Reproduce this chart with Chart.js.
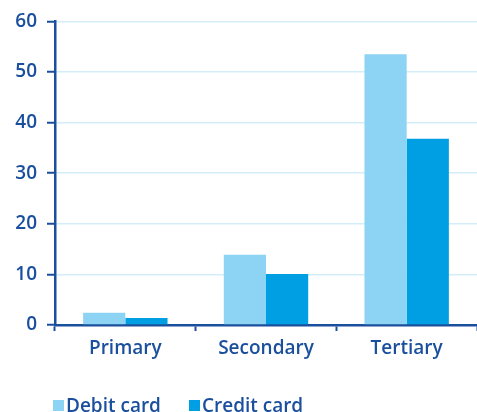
<!DOCTYPE html>
<html>
<head>
<meta charset="utf-8">
<script src="https://cdn.jsdelivr.net/npm/chart.js@4"></script>
<style>
  html, body { margin: 0; padding: 0; background: #fff; }
  #wrap { position: relative; width: 477px; height: 412px; }
  #legend {
    position: absolute; left: 53px; top: 392px;
    display: flex; gap: 28px;
    font: 600 19px 'Open Sans', sans-serif; color: #1a4f9e;
  }
  #legend span { display: flex; align-items: center; }
  #legend i { display: inline-block; width: 11px; height: 11px; margin-right: 2px; }
</style>
</head>
<body>
<div id="wrap">
  <canvas id="chart"></canvas>
  <div id="legend"></div>
</div>
<script>
// Card usage by education level
const categories = ['Primary', 'Secondary', 'Tertiary'];
const debitCard = [2.4, 13.9, 53.5];
const creditCard = [1.4, 10.1, 36.8];
const yTicks = [0, 10, 20, 30, 40, 50, 60];

const navy = '#1a4f9e';
const gridBlue = '#d3edf9';
const labelFont = { family: 'Open Sans', size: 19, weight: '600' };

const chartData = {
    labels: categories,
    datasets: [{
        label: 'Debit card',
        data: debitCard,
        backgroundColor: '#8dd3f3',
        borderWidth: 0,
        categoryPercentage: 0.6,
        barPercentage: 1.0
    }, {
        label: 'Credit card',
        data: creditCard,
        backgroundColor: '#009fe3',
        borderWidth: 0,
        categoryPercentage: 0.6,
        barPercentage: 1.0
    }]
};

const chart = new Chart(document.getElementById('chart'), {
    type: 'bar',
    data: chartData,
    options: {
        responsive: true,
        maintainAspectRatio: false,
        animation: false,
        layout: {
            padding: { top: 20, right: -5, left: 0, bottom: 0 }
        },
        scales: {
            y: {
                min: 0,
                max: 60,
                afterBuildTicks: (axis) => {
                    axis.ticks = yTicks.map(v => ({ value: v }));
                },
                afterFit: (axis) => { axis.width = 55; },
                border: { color: navy, width: 2.5 },
                grid: {
                    color: gridBlue,
                    lineWidth: 1.5,
                    tickColor: navy,
                    tickLength: 8,
                    tickWidth: 2
                },
                ticks: {
                    color: navy,
                    padding: 10,
                    font: labelFont
                }
            },
            x: {
                afterFit: (axis) => { axis.height = 87; },
                border: { color: navy, width: 2.5 },
                grid: {
                    drawOnChartArea: false,
                    tickColor: navy,
                    tickLength: 6,
                    tickWidth: 2
                },
                ticks: {
                    color: navy,
                    padding: 6,
                    font: labelFont
                }
            }
        },
        plugins: {
            legend: { display: false },
            tooltip: { enabled: false }
        }
    }
});

// Legend built from the datasets
const legendEl = document.getElementById('legend');
chart.data.datasets.forEach(ds => {
    const item = document.createElement('span');
    const swatch = document.createElement('i');
    swatch.style.background = ds.backgroundColor;
    item.appendChild(swatch);
    item.appendChild(document.createTextNode(ds.label));
    legendEl.appendChild(item);
});
</script>
</body>
</html>
